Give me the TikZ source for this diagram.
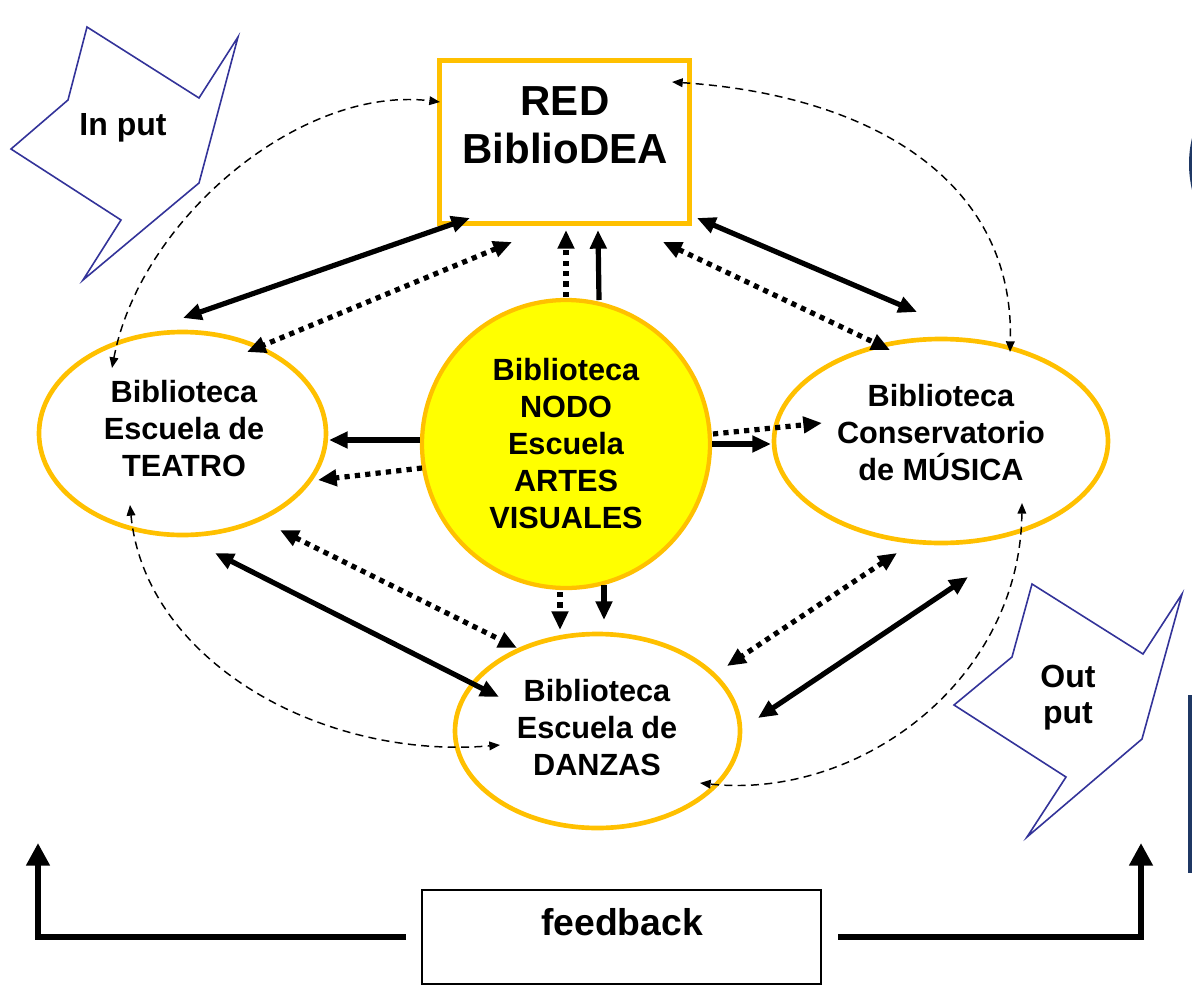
\documentclass[tikz,border=0pt]{standalone}
\usepackage{fontspec}
\setmainfont{Liberation Sans}
\usetikzlibrary{arrows.meta,calc,shapes.geometric}
\definecolor{gold}{HTML}{FFC000}
\definecolor{yel}{HTML}{FFFF00}
\definecolor{inblue}{HTML}{333399}
\definecolor{navy}{HTML}{1F3864}
\begin{document}
\begin{tikzpicture}[x=0.75pt,y=-0.75pt,
  lbl/.style={font=\bfseries\fontsize{23pt}{27.75pt}\selectfont, align=center},
  lib/.style={ellipse, draw=gold, line width=3.5pt, inner sep=0pt},
  bsolid/.style={line width=3.9pt, {Triangle[length=14pt,width=12pt]}-{Triangle[length=14pt,width=12pt]}},
  osolid/.style={line width=3.9pt, -{Triangle[length=14pt,width=12pt]}},
  bdot/.style={line width=3.9pt, dash pattern=on 3.9pt off 3.9pt, {Triangle[length=14pt,width=12pt]}-{Triangle[length=14pt,width=12pt]}},
  odot/.style={line width=3.9pt, dash pattern=on 3.9pt off 3.9pt, -{Triangle[length=14pt,width=12pt]}},
  bdash/.style={line width=1.1pt, dash pattern=on 6pt off 4pt, {Triangle[length=8pt,width=6.5pt]}-{Triangle[length=8pt,width=6.5pt]}},
  fbarrow/.style={line width=4.5pt, -{Triangle[length=17pt,width=17pt]}},
  io/.style={draw=inblue, line width=1.2pt, line join=miter},
  iotext/.style={font=\bfseries\fontsize{24pt}{27pt}\selectfont, align=center}
]
\useasboundingbox (0,0) rectangle (1192,989);

% edge fragments
\fill[navy] (1192,138) .. controls (1188,155) and (1188,172) .. (1192,190) -- cycle;
\fill[navy] (1188,695) rectangle (1192,873);

% input / output shapes
\draw[io] (87,27) -- (199,98) -- (238,37) -- (199,183) -- (83,280) -- (121,220) -- (11,149) -- (68,100) -- cycle;
\node[iotext] (input) at (123,128) {In put};
\draw[io] (1032,584) -- (1143,654) -- (1182,594) -- (1142,739) -- (1027,837) -- (1066,777) -- (954,705) -- (1012,657) -- cycle;
\node[iotext] (output) at (1068,698) {Out\\put};

% main nodes
\node[draw=gold, line width=3.75pt, minimum width=187.5pt, minimum height=122.25pt, inner sep=0pt] (red) at (564.5,142) {};
\node[font=\bfseries\fontsize{31.5pt}{36pt}\selectfont, align=center] (redtxt) at (565,125) {RED\\BiblioDEA};
\node[circle, draw=gold, fill=yel, line width=3.2pt, minimum size=216pt, inner sep=0pt, lbl] (nodo) at (566,444) {Biblioteca\\NODO\\Escuela\\ARTES\\VISUALES};
\node[lib, minimum width=215.25pt, minimum height=152.25pt] (teatro) at (182.5,433.5) {};
\node[lbl] (teatrotxt) at (184,429) {Biblioteca\\Escuela de\\TEATRO};
\node[lib, minimum width=250.5pt, minimum height=153pt] (musica) at (941,441) {};
\node[lbl] (musicatxt) at (941,433) {Biblioteca\\Conservatorio\\de MÚSICA};
\node[lib, minimum width=213.75pt, minimum height=145.5pt] (danzas) at (597.5,731) {};
\node[lbl] (danzastxt) at (597,728) {Biblioteca\\Escuela de\\DANZAS};

% feedback
\node[draw=black, line width=1.5pt, minimum width=299.25pt, minimum height=70.5pt, inner sep=0pt] (fb) at (621.5,937) {};
\node[font=\bfseries\fontsize{28pt}{32pt}\selectfont] (fbtxt) at (622,922) {feedback};
\coordinate (fbL) at (38,843);
\coordinate (fbR) at (1141,843);
\draw[fbarrow, shorten <=11.25pt] (fb.west) -| (fbL);
\draw[fbarrow, shorten <=12pt] (fb.east) -| (fbR);

% RED <-> Teatro
\draw[bsolid] ($(red.center)+(-94.5,76)$) -- ($(teatro.center)+(0.5,-115.5)$);
\draw[bdot] ($(red.center)+(-52.5,100)$) -- ($(teatro.center)+(64.5,-81.5)$);
% Nodo -> RED
\draw[odot] ($(nodo.center)+(0,-147)$) -- ($(red.center)+(1.5,88)$);
\draw[osolid] ($(nodo.center)+(33,-144)$) -- ($(red.center)+(33.5,88)$);
% RED <-> Musica
\draw[bsolid] ($(red.center)+(132.5,76)$) -- ($(musica.center)+(-24,-129)$);
\draw[bdot] ($(red.center)+(98.5,100)$) -- ($(musica.center)+(-51,-91)$);
% Nodo -> Teatro
\draw[osolid] ($(nodo.center)+(-146,-4)$) -- ($(teatro.center)+(146.5,6.5)$);
\draw[odot] ($(nodo.center)+(-144,24)$) -- ($(teatro.center)+(135.5,46.5)$);
% Nodo -> Musica
\draw[osolid] ($(nodo.center)+(146,0)$) -- ($(musica.center)+(-170,3)$);
\draw[odot] ($(nodo.center)+(147,-10)$) -- ($(musica.center)+(-119,-18)$);
% Nodo -> Danzas
\draw[odot] ($(nodo.center)+(-6,148)$) -- ($(danzas.center)+(-37.5,-101)$);
\draw[osolid] ($(nodo.center)+(38,141)$) -- ($(danzas.center)+(6.5,-111)$);
% Teatro <-> Danzas
\draw[bdot] ($(teatro.center)+(97.5,96.5)$) -- ($(danzas.center)+(-80.5,-83)$);
\draw[bsolid] ($(teatro.center)+(32.5,119.5)$) -- ($(danzas.center)+(-98.5,-34)$);
% Musica <-> Danzas
\draw[bdot] ($(musica.center)+(-44,112)$) -- ($(danzas.center)+(129.5,-65)$);
\draw[bsolid] ($(musica.center)+(27,136)$) -- ($(danzas.center)+(160.5,-13)$);

% dashed curves
\draw[bdash] ($(teatro.center)+(-70.5,-65.5)$) .. controls +(28,-148) and +(-140,-17) .. ($(red.center)+(-124.5,-40)$);
\draw[bdash] ($(red.center)+(107.5,-60)$) .. controls +(198,13) and +(5,-172) .. ($(musica.center)+(69,-89)$);
\draw[bdash] ($(teatro.center)+(-52.5,71.5)$) .. controls +(15,155) and +(-180,15) .. ($(danzas.center)+(-97.5,14)$);
\draw[bdash] ($(musica.center)+(81,62)$) .. controls +(-2,177) and +(160,17) .. ($(danzas.center)+(102.5,52)$);
\end{tikzpicture}
\end{document}
